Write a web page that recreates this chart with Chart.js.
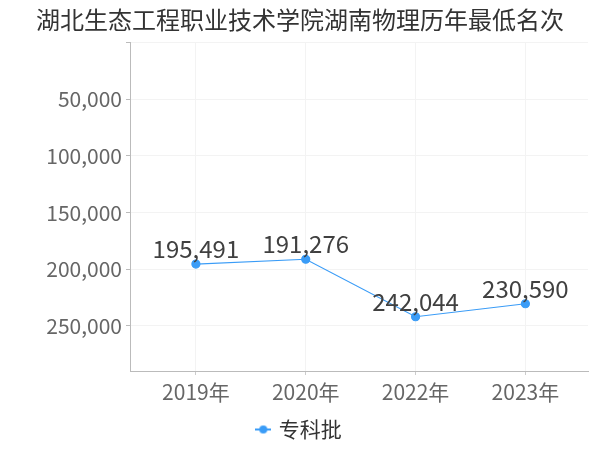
<!DOCTYPE html>
<html>
<head>
<meta charset="utf-8">
<script src="https://cdn.jsdelivr.net/npm/chart.js@4"></script>
<style>
  html, body { margin: 0; padding: 0; background: #fff; }
  #wrap { width: 600px; height: 450px; }
</style>
</head>
<body>
<div id="wrap"><canvas id="chart"></canvas></div>
<script>
const years = ['2019年', '2020年', '2022年', '2023年'];
const ranks = [195491, 191276, 242044, 230590];
const seriesName = '专科批';
const titleText = '湖北生态工程职业技术学院湖南物理历年最低名次';

const FONT = '"Noto Sans CJK SC", "Noto Sans", sans-serif';
const LINE_COLOR = '#3a9cf7';

// little legend marker: a short line with a dot on it
function legendMarker() {
    const c = document.createElement('canvas');
    c.width = 16; c.height = 10;
    const g = c.getContext('2d');
    g.strokeStyle = LINE_COLOR;
    g.lineWidth = 2;
    g.beginPath(); g.moveTo(0, 5); g.lineTo(16, 5); g.stroke();
    g.fillStyle = LINE_COLOR;
    g.beginPath(); g.arc(8, 5, 4, 0, Math.PI * 2); g.fill();
    return c;
}

const valueLabels = {
    id: 'valueLabels',
    afterDatasetsDraw(chart) {
        const ctx = chart.ctx;
        const meta = chart.getDatasetMeta(0);
        ctx.save();
        ctx.font = '24px ' + FONT;
        ctx.fillStyle = '#404040';
        ctx.textAlign = 'center';
        ctx.textBaseline = 'middle';
        meta.data.forEach((pt, i) => {
            ctx.fillText(ranks[i].toLocaleString('en-US'), pt.x, pt.y - 15);
        });
        ctx.restore();
    }
};

new Chart(document.getElementById('chart'), {
    type: 'line',
    data: {
        datasets: [{
            label: seriesName,
            data: ranks.map((v, i) => ({ x: i, y: v })),
            borderColor: LINE_COLOR,
            backgroundColor: LINE_COLOR,
            borderWidth: 1.2,
            pointRadius: 4,
            pointHoverRadius: 4,
            fill: false,
            tension: 0
        }]
    },
    options: {
        responsive: true,
        maintainAspectRatio: false,
        animation: false,
        layout: { padding: { left: 12, right: 12, top: 0, bottom: 0 } },
        plugins: {
            title: {
                display: true,
                text: titleText,
                color: '#333',
                font: { family: FONT, size: 24, weight: 'normal' },
                padding: { top: 5, bottom: 9 }
            },
            legend: {
                position: 'bottom',
                labels: {
                    usePointStyle: true,
                    pointStyle: legendMarker(),
                    boxWidth: 10,
                    color: '#333',
                    font: { family: FONT, size: 21 },
                    padding: 6
                }
            },
            tooltip: { enabled: false }
        },
        scales: {
            x: {
                type: 'linear',
                min: -0.6,
                max: 3.57,
                afterBuildTicks(scale) {
                    scale.ticks = years.map((_, i) => ({ value: i }));
                },
                afterFit(scale) { scale.height = 42; },
                ticks: {
                    callback: (v) => years[v] || '',
                    color: '#666',
                    font: { family: FONT, size: 21 },
                    padding: 4
                },
                grid: { color: '#f3f3f3', drawTicks: true, tickLength: 4, tickColor: '#ccc' },
                border: { color: '#bbb' }
            },
            y: {
                reverse: true,
                min: 0,
                max: 290000,
                afterBuildTicks(scale) {
                    scale.ticks = [0, 50000, 100000, 150000, 200000, 250000].map(v => ({ value: v }));
                },
                afterFit(scale) { scale.width = 118; },
                ticks: {
                    callback: (v) => v === 0 ? '' : v.toLocaleString('en-US'),
                    color: '#666',
                    font: { family: FONT, size: 21 },
                    padding: 4
                },
                grid: { color: '#f3f3f3', tickLength: 4, tickColor: '#bbb' },
                border: { color: '#bbb' }
            }
        }
    },
    plugins: [valueLabels]
});
</script>
</body>
</html>
